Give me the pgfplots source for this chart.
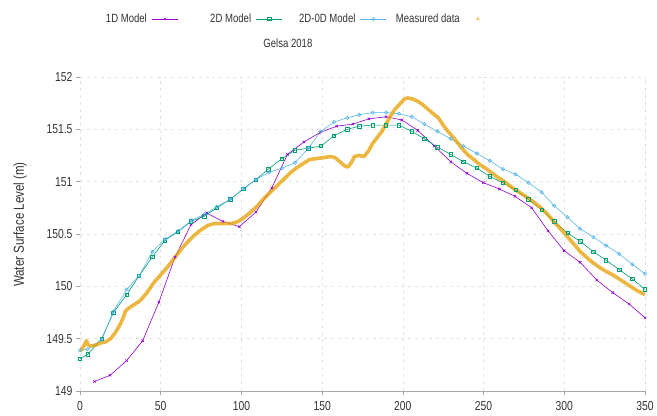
\documentclass[border=0pt]{standalone}
\usepackage{fontspec}
\setmainfont{Liberation Sans}[FakeStretch=0.8]
\usepackage{pgfplots}
\pgfplotsset{compat=1.18}
\definecolor{cOneD}{HTML}{9400D3}
\definecolor{cTwoD}{HTML}{009E73}
\definecolor{cTwoZ}{HTML}{56B4E9}
\definecolor{cMeas}{HTML}{E69F00}
\newcommand{\lbox}[1]{\makebox[68bp][r]{#1}}
\begin{document}
\begin{tikzpicture}
\begin{axis}[name=ax,
  scale only axis, width=565bp, height=314bp,
  xmin=0, xmax=350, ymin=149, ymax=152,
  xtick={0,50,...,350}, ytick={149,149.5,...,152},
  xtick pos=bottom, ytick pos=left,
  tick style={gray!70, line width=0.5pt}, major tick length=4pt,
  tick align=outside,
  axis line style={draw=none},
  grid=major, major grid style={gray!22, dash pattern=on 3pt off 4pt, line width=0.5pt},
  /pgf/number format/assume math mode=true,
  ticklabel style={font=\fontsize{13}{15}\selectfont, text=black!80},
  yticklabel style={/pgf/number format/.cd, fixed, precision=1},
  xticklabel style={yshift=-3pt},
  ylabel={Water Surface Level (m)}, ylabel style={font=\fontsize{14.5}{16}\selectfont, text=black!80, at={(rel axis cs:-0.106,0.53)}, anchor=center},
  title={Gelsa 2018}, title style={font=\fontsize{12}{14}\selectfont, text=black!80, at={(rel axis cs:0.368,1.089)}, anchor=center},
  legend columns=4, legend plot pos=right,
  legend style={draw=none, fill=none, font=\fontsize{12}{14}\selectfont, text=black!80, at={(-0.002,1.185)}, anchor=west,
    inner sep=0pt, outer sep=0pt, nodes={inner sep=0pt},
    /tikz/every even column/.append style={column sep=5bp}},
  legend image code/.code={\path[draw=none] (0bp,0bp) -- (31bp,0bp); \draw[mark repeat=2, mark phase=2] plot coordinates {(5bp,0bp) (18bp,0bp) (31bp,0bp)};},
  every axis plot/.append style={line width=0.6pt},
  mark size=1.7pt,
]
\draw[gray!70, line width=0.6pt] (rel axis cs:0,0) -- (rel axis cs:1,0);
\draw[gray!40, line width=0.8pt] (rel axis cs:1,0) -- (rel axis cs:1,1);
\addplot[cOneD, mark=x, mark options={solid}] coordinates {
(8.9,149.09)(18.6,149.15)(28.9,149.29)(38.8,149.48)(48.9,149.85)(58.9,150.28)(68.8,150.59)(78.5,150.70)(88.5,150.62)(98.7,150.57)(109,150.71)(118.8,150.94)(128.5,151.26)(138.8,151.38)(148.7,151.47)(159,151.53)(169,151.55)(179,151.60)(189.6,151.62)(199.3,151.59)(209.2,151.49)(219.5,151.34)(229.7,151.19)(239.6,151.08)(249.9,150.99)(259.8,150.93)(269.5,150.86)(279.8,150.75)(290,150.53)(299.9,150.34)(309.8,150.23)(320.1,150.06)(330,149.94)(340.2,149.83)(350,149.70)};
\addlegendentry{\lbox{1D Model}}
\addplot[cTwoD, mark=square, mark options={solid}] coordinates {
(0,149.31)(4.8,149.35)(13.4,149.50)(20.7,149.75)(28.9,149.92)(36.6,150.10)(44.8,150.28)(52.7,150.44)(60.5,150.52)(68.8,150.62)(77,150.67)(84.8,150.75)(93,150.83)(101.2,150.93)(109,151.02)(116.7,151.12)(125,151.22)(133.2,151.30)(141.5,151.32)(149.3,151.34)(157.4,151.44)(165.6,151.50)(173,151.53)(181.3,151.54)(189.6,151.54)(197.6,151.54)(205.5,151.48)(213.3,151.41)(221.4,151.33)(229.7,151.26)(237.5,151.19)(245.8,151.13)(253.8,151.05)(261.9,150.99)(269.9,150.92)(277.8,150.83)(286,150.73)(293.7,150.62)(302,150.51)(309.8,150.43)(318,150.33)(325.9,150.25)(334,150.16)(342.2,150.07)(350,149.97)};
\addlegendentry{\lbox{2D Model}}
\addplot[cTwoZ, mark=o, mark options={solid}] coordinates {
(0,149.39)(4.8,149.40)(13.4,149.49)(20.7,149.76)(28.9,149.97)(36.6,150.10)(44.8,150.33)(52.7,150.45)(61,150.53)(69.2,150.63)(77.4,150.69)(84.7,150.76)(93,150.83)(100.8,150.93)(109,151.02)(117.3,151.09)(125.2,151.13)(133.2,151.18)(141.5,151.32)(149.1,151.48)(157.4,151.57)(165.6,151.61)(173,151.64)(181.3,151.66)(189.6,151.66)(197.6,151.65)(205.5,151.62)(213.3,151.55)(221.4,151.48)(229.7,151.41)(237.5,151.34)(245.8,151.27)(253.8,151.20)(261.9,151.12)(269.9,151.07)(277.8,150.99)(286,150.90)(293.7,150.77)(302,150.66)(309.8,150.55)(318,150.47)(325.9,150.39)(334,150.31)(342.2,150.21)(350,150.12)};
\addlegendentry{\lbox{2D-0D Model}}
\addplot[cMeas, line width=3.6pt, opacity=0.75, line join=round, forget plot] coordinates {
(0,149.38)(2,149.42)(4,149.48)(5,149.44)(7,149.43)(10,149.44)(13,149.46)(16,149.47)(19,149.50)(22,149.56)(25,149.64)(27,149.71)(28,149.76)(30,149.79)(34,149.83)(37,149.86)(41,149.93)(46,150.04)(50,150.11)(55,150.20)(59,150.28)(63,150.36)(67,150.43)(71,150.49)(75,150.54)(79,150.58)(83,150.60)(87,150.60)(91,150.60)(94,150.60)(98,150.62)(101,150.65)(105,150.70)(110,150.77)(114,150.84)(118,150.90)(122,150.96)(126,151.02)(130,151.08)(134,151.13)(138,151.17)(142,151.21)(146,151.22)(151,151.23)(155,151.24)(158,151.23)(161,151.19)(164,151.15)(166,151.14)(168,151.18)(170,151.24)(173,151.25)(176,151.24)(179,151.30)(181,151.36)(184,151.42)(187,151.48)(190,151.56)(192,151.62)(195,151.69)(198,151.74)(201,151.79)(203,151.80)(206,151.79)(209,151.77)(212,151.74)(215,151.70)(218,151.66)(222,151.61)(225,151.54)(228,151.48)(232,151.41)(236,151.33)(240,151.26)(244,151.21)(248,151.16)(252,151.12)(258,151.05)(263,151.00)(268,150.94)(273,150.89)(278,150.84)(284,150.77)(289,150.70)(294,150.61)(300,150.51)(305,150.42)(310,150.33)(315,150.26)(320,150.20)(325,150.15)(330,150.11)(335,150.06)(341,150.00)(345,149.96)(350,149.92)};
\addlegendimage{legend image code/.code={\path[draw=none] (0bp,0bp) -- (31bp,0bp); \draw[cMeas, line width=0.5pt, mark=triangle, mark size=1.7pt, opacity=0.8] plot coordinates {(18bp,0bp)};}}
\addlegendentry{\lbox{Measured data}}
\end{axis}
\pgfresetboundingbox
\path ([xshift=-80bp,yshift=-25bp]ax.south west) rectangle ([xshift=12bp,yshift=77bp]ax.north east);
\end{tikzpicture}
\end{document}
